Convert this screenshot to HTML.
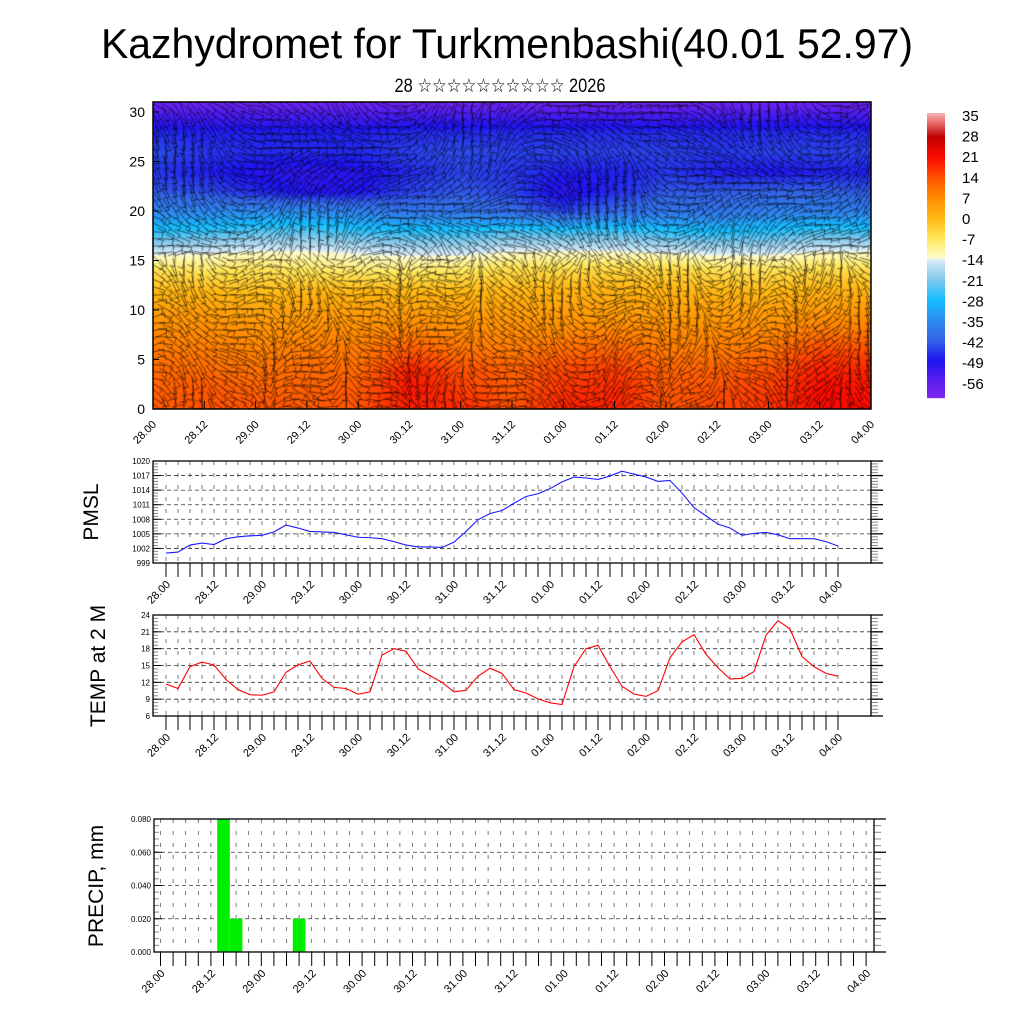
<!DOCTYPE html>
<html><head><meta charset="utf-8">
<style>
html,body{margin:0;padding:0;background:#fff;}
#wrap{position:relative;width:1024px;height:1024px;overflow:hidden;}
#field{position:absolute;left:153px;top:102px;}
svg{position:absolute;left:0;top:0;}
text{font-family:"Liberation Sans","DejaVu Sans",sans-serif;}
</style></head>
<body>
<div id="wrap">
<canvas id="field" width="718" height="307"></canvas>
<svg id="svg" width="1024" height="1024">
<text x="507" y="58" font-size="42" text-anchor="middle" textLength="812" lengthAdjust="spacingAndGlyphs">Kazhydromet for Turkmenbashi(40.01 52.97)</text>
<text x="500" y="92" font-size="19" text-anchor="middle" textLength="211" lengthAdjust="spacingAndGlyphs">28 ☆☆☆☆☆☆☆☆☆☆ 2026</text>
<text transform="translate(98,512) rotate(-90)" font-size="21" text-anchor="middle">PMSL</text>
<text transform="translate(105,666) rotate(-90)" font-size="21" text-anchor="middle">TEMP at 2 M</text>
<text transform="translate(103,886) rotate(-90)" font-size="21" text-anchor="middle">PRECIP, mm</text>
<g id="g"></g>
</svg>
</div>
<script>
// ---------- data ----------
const xLabels = ["28.00","28.12","29.00","29.12","30.00","30.12","31.00","31.12","01.00","01.12","02.00","02.12","03.00","03.12","04.00"];
const pmsl = [1001.05,1001.25,1002.7,1003.1,1002.8,1004.0,1004.4,1004.6,1004.7,1005.4,1006.8,1006.2,1005.5,1005.4,1005.3,1004.8,1004.3,1004.2,1004.0,1003.4,1002.7,1002.3,1002.3,1002.2,1003.3,1005.5,1007.9,1009.2,1009.8,1011.3,1012.7,1013.25,1014.3,1015.7,1016.7,1016.5,1016.2,1016.9,1017.9,1017.3,1016.7,1015.8,1016.0,1013.4,1010.4,1008.7,1007.0,1006.2,1004.7,1005.1,1005.3,1004.8,1004.0,1004.0,1004.0,1003.4,1002.5];
const temp2m = [11.7,10.9,14.8,15.6,15.1,12.5,10.7,9.8,9.7,10.3,13.8,15.1,15.8,12.7,11.1,10.9,9.9,10.3,16.85,18.0,17.55,14.4,13.2,12.0,10.3,10.6,13.1,14.5,13.6,10.7,10.1,9.05,8.35,8.05,14.8,18.0,18.6,14.8,11.3,9.9,9.5,10.5,16.4,19.2,20.5,17.0,14.6,12.6,12.7,13.9,20.4,23.0,21.5,16.6,14.8,13.6,13.1];
const precipIndex = [5,6,11];
const precipVals = [0.08,0.02,0.02];
const pmslTicks = [999,1002,1005,1008,1011,1014,1017,1020];
const tempTicks = [6,9,12,15,18,21,24];
const precipTicks = ["0.000","0.020","0.040","0.060","0.080"];
const fieldHeights = [0,2,4,6,8,10,12,14,16,18,20,22,24,26,28,30,31];
const fieldRows = [
[13,14,14,13,14,19,18,14,19,19,14,15,17,21,21],
[12,13,12,12,13,20,16,13,17,18,13,14,16,21,20],
[11,11,10,11,11,19,14,12,15,16,12,12,14,19,18],
[9,9,8,9,9,13,10,9,11,12,9,9,10,15,14],
[7,7,6,7,7,8,7,7,7,8,7,7,7,9,9],
[4,4,3,4,4,4,4,4,4,4,4,4,4,5,5],
[0,0,-1,0,0,0,0,0,1,1,1,0,0,1,1],
[-6,-7,-6,-7,-8,-8,-7,-5,-5,-4,-4,-6,-6,-5,-5],
[-16,-15,-14,-14,-15,-16,-16,-14,-14,-14,-15,-16,-16,-14,-14],
[-27,-26,-24,-24,-26,-27,-27,-25,-26,-25,-27,-28,-27,-25,-26],
[-36,-36,-35,-35,-37,-39,-39,-41,-45,-41,-39,-39,-37,-37,-37],
[-43,-44,-47,-50,-49,-45,-43,-45,-51,-47,-43,-43,-42,-42,-43],
[-46,-48,-50,-51,-50,-47,-45,-46,-48,-48,-46,-48,-49,-48,-48],
[-44,-46,-47,-47,-47,-45,-44,-45,-45,-45,-45,-46,-45,-45,-45],
[-47,-48,-48,-48,-48,-47,-47,-47,-47,-47,-47,-47,-47,-47,-47],
[-55,-55,-55,-55,-55,-55,-55,-55,-55,-55,-55,-55,-55,-55,-55],
[-59,-59,-59,-59,-59,-59,-59,-59,-59,-59,-59,-59,-59,-59,-59]];
const cbLabels = [35,28,21,14,7,0,-7,-14,-21,-28,-35,-42,-49,-56];

// ---------- color map ----------
const stops=[[-62,[130,40,240]],[-56,[90,30,240]],[-49,[30,20,240]],[-42,[50,100,230]],[-35,[45,140,240]],[-28,[20,190,255]],[-21,[130,200,235]],[-14.5,[215,235,248]],[-13.5,[255,252,200]],[-7,[255,230,90]],[0,[255,185,20]],[7,[255,140,0]],[14,[255,80,0]],[21,[250,10,0]],[28,[190,0,0]],[32,[225,90,90]],[36,[245,175,175]]];
function cmap(v){
  if(v<=stops[0][0]) return stops[0][1];
  for(let i=1;i<stops.length;i++){ if(v<=stops[i][0]){const a=stops[i-1],b=stops[i];const t=(v-a[0])/(b[0]-a[0]);return [0,1,2].map(k=>Math.round(a[1][k]+(b[1][k]-a[1][k])*t));}}
  return stops[stops.length-1][1];
}
const NS='http://www.w3.org/2000/svg';
const g=document.getElementById('g');
function el(tag,attrs,parent){const e=document.createElementNS(NS,tag);for(const k in attrs)e.setAttribute(k,attrs[k]);(parent||g).appendChild(e);return e;}

// ---------- field ----------
const FX=153,FY=102,FW=718,FH=307,Y0=409,YPX=9.9;
const cv=document.getElementById('field'),ctx=cv.getContext('2d');
const img=ctx.createImageData(FW,FH);
function fieldVal(col,h){
  let r=0;while(r<fieldHeights.length-2&&h>fieldHeights[r+1])r++;
  const th=Math.max(0,Math.min(1,(h-fieldHeights[r])/(fieldHeights[r+1]-fieldHeights[r])));
  const c0=Math.max(0,Math.min(13,Math.floor(col))),tc=Math.max(0,Math.min(1,col-c0));
  const a=fieldRows[r][c0]*(1-tc)+fieldRows[r][c0+1]*tc;
  const b=fieldRows[r+1][c0]*(1-tc)+fieldRows[r+1][c0+1]*tc;
  return a*(1-th)+b*th;
}
for(let y=0;y<FH;y++){const h=(Y0-(FY+y))/YPX;for(let x=0;x<FW;x++){const col=x/(FW/14);const c=cmap(fieldVal(col,h));const i=(y*FW+x)*4;img.data[i]=c[0];img.data[i+1]=c[1];img.data[i+2]=c[2];img.data[i+3]=255;}}
ctx.putImageData(img,0,0);
// wind texture (decorative)
let seed=7;function rnd(){seed=(seed*16807)%2147483647;return seed/2147483647;}
ctx.strokeStyle='rgba(0,0,0,0.8)';ctx.lineWidth=0.7;
for(let y=4;y<FH;y+=7){for(let x=4;x<FW;x+=9){
  const h=(FH-y)/FH;
  let ang=Math.sin(x*0.013+y*0.02)*0.9+Math.cos(x*0.031-y*0.015)*0.6;
  if(h<0.5) ang+=Math.sin(x*0.05)*1.1+1.0;
  ang+=(rnd()-0.5)*0.5;
  const L=12+rnd()*10,dx=Math.cos(ang)*L/2,dy=Math.sin(ang)*L/2;
  ctx.beginPath();ctx.moveTo(x-dx,y-dy);ctx.lineTo(x+dx,y+dy);
  ctx.lineTo(x+dx+Math.cos(ang+1.8)*5,y+dy+Math.sin(ang+1.8)*5);ctx.stroke();
}}
el('rect',{x:FX,y:FY,width:FW,height:FH,fill:'none',stroke:'#000','stroke-width':1.5});
for(let v=0;v<=30;v+=5){const y=Y0-v*YPX;
  el('line',{x1:FX,x2:FX+6,y1:y,y2:y,stroke:'#000'});
  const t=el('text',{x:FX-8,y:y+5,'font-size':14,'text-anchor':'end'});t.textContent=v;
  }
xLabels.forEach((s,i)=>{const x=FX+i*FW/14;
  el('line',{x1:x,x2:x,y1:Y0,y2:Y0-8,stroke:'#000'});
  const t=el('text',{transform:`translate(${x+4},${Y0+16}) rotate(-45)`,'font-size':11,'text-anchor':'end'});t.textContent=s;
  });
// colorbar
const CBX=927,CBY=113,CBW=18,CBH=285;
for(let i=0;i<CBH;i++){const v=36-(i/CBH)*98;const c=cmap(v);
  const r=el('rect',{x:CBX,y:CBY+i,width:CBW,height:1.2,fill:`rgb(${c[0]},${c[1]},${c[2]})`});
  }
cbLabels.forEach((v,i)=>{const t=el('text',{x:962,y:121+i*20.6,'font-size':15});t.textContent=v;
  });

// ---------- line/bar panels ----------
function panel(o){
  const {x0,x1,y0,y1,tx0,tdx,n,ticks,vmin,vmax,labels,fmt}=o;
  const sy=v=>y1-(v-vmin)/(vmax-vmin)*(y1-y0);
  const sx=i=>tx0+i*tdx;
  for(let i=0;i<n;i++){el('line',{x1:sx(i),x2:sx(i),y1:y0,y2:y1,stroke:'#444','stroke-width':0.7,'stroke-dasharray':'4,8'});}
  const step=(vmax-vmin)/((ticks.length-1)*5);
  for(let v=vmin;v<=vmax+1e-9;v+=step){const y=sy(v);
    el('line',{x1:x0,x2:x0+5,y1:y,y2:y,stroke:'#888'});el('line',{x1:x1,x2:x1+7,y1:y,y2:y,stroke:'#888'});}
  ticks.forEach((tv,k)=>{const v=+tv,y=sy(v);
    el('line',{x1:x0,x2:x1,y1:y,y2:y,stroke:'#333','stroke-width':0.8,'stroke-dasharray':'4,3'});
    el('line',{x1:x0,x2:x0+8,y1:y,y2:y,stroke:'#000'});el('line',{x1:x1,x2:x1+12,y1:y,y2:y,stroke:'#000','stroke-width':1.3});
    const t=el('text',{x:x0-3,y:y+3,'font-size':8,'text-anchor':'end'});t.textContent=fmt?tv:v;
    });
  for(let i=0;i<n;i++){el('line',{x1:sx(i),x2:sx(i),y1:y1,y2:y1+14,stroke:'#000'});}
  labels.forEach((s,k)=>{const x=sx(k*4);
    const t=el('text',{transform:`translate(${x+5},${y1+22}) rotate(-45)`,'font-size':11,'text-anchor':'end'});t.textContent=s;
    });
  return {sx,sy};
}
function frame(x0,x1,y0,y1,name){const r=el('rect',{x:x0,y:y0,width:x1-x0,height:y1-y0,fill:'none',stroke:'#000','stroke-width':1.3});
  }

// PMSL
let p=panel({x0:153,x1:871,y0:461,y1:563,tx0:166,tdx:12,n:57,ticks:pmslTicks,vmin:999,vmax:1020,labels:xLabels});
let pl=el('polyline',{points:pmsl.map((v,i)=>p.sx(i)+','+p.sy(v)).join(' '),fill:'none',stroke:'#1a1aff','stroke-width':1.1});

frame(153,871,461,563,'pmsl-plot-frame');

// TEMP
p=panel({x0:153,x1:871,y0:615,y1:716,tx0:166,tdx:12,n:57,ticks:tempTicks,vmin:6,vmax:24,labels:xLabels});
pl=el('polyline',{points:temp2m.map((v,i)=>p.sx(i)+','+p.sy(v)).join(' '),fill:'none',stroke:'#ff0000','stroke-width':1.1});

frame(153,871,615,716,'temp-plot-frame');

// PRECIP
p=panel({x0:154,x1:874,y0:819,y1:952,tx0:160.5,tdx:12.6,n:57,ticks:precipTicks,vmin:0,vmax:0.08,labels:xLabels,fmt:true});
precipIndex.forEach((idx,k)=>{const x=p.sx(idx)-6.3,y=p.sy(precipVals[k]);
  const b=el('rect',{x:x,y:y,width:12.6,height:952-y,fill:'#00ee00'});
  });
frame(154,874,819,952,'precip-plot-frame');
</script>
</body></html>
